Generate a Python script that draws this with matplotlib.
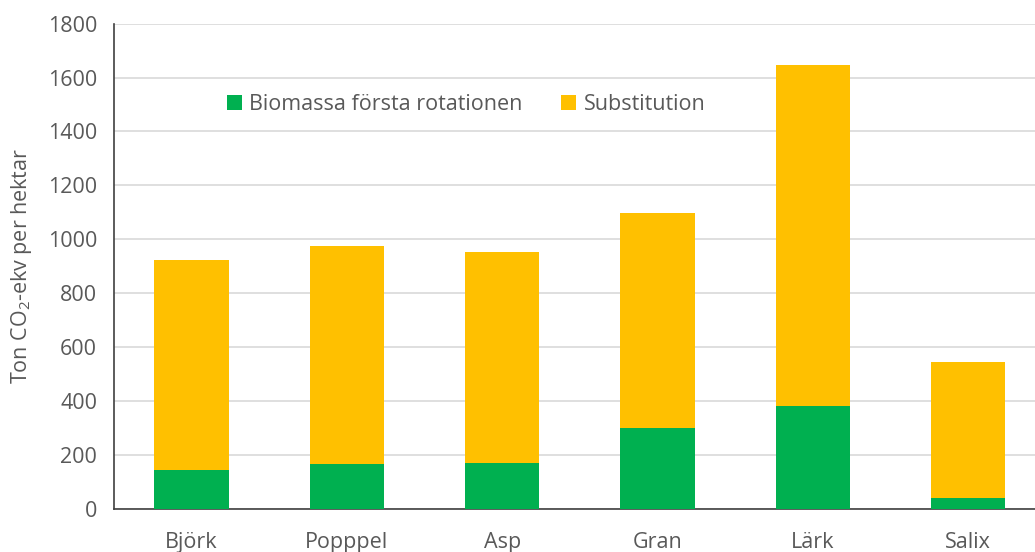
import matplotlib
matplotlib.use("Agg")
import matplotlib.pyplot as plt
import numpy as np

plt.rcParams['font.family'] = ['Open Sans', 'DejaVu Sans']
plt.rcParams['mathtext.default'] = 'regular'

categories = ["Björk", "Popppel", "Asp", "Gran", "Lärk", "Salix"]
totals = [923, 975, 952, 1099, 1647, 543]
biomassa = [144, 166, 170, 301, 383, 41]
substitution = [t - b for t, b in zip(totals, biomassa)]

green = "#00b050"
yellow = "#ffc000"
textc = "#595959"

fig = plt.figure(figsize=(10.35, 5.52), dpi=100)
ax = fig.add_axes([0.110, 0.0784, 0.9005, 0.8788])

x = np.arange(len(categories))
ax.bar(x, biomassa, width=0.48, color=green, label="Biomassa första rotationen", zorder=3)
ax.bar(x, substitution, width=0.48, bottom=biomassa, color=yellow, label="Substitution", zorder=3)

ax.set_xlim(-0.5, len(categories) - 0.5)
ax.set_ylim(0, 1800)
ax.set_yticks(np.arange(0, 1801, 200))
ax.set_xticks(x)
ax.set_xticklabels(categories)
ax.yaxis.grid(True, color="#d9d9d9", linewidth=1.2, zorder=0)
ax.tick_params(axis="both", length=0, labelsize=15.5, colors=textc)
ax.tick_params(axis="x", pad=17)
ax.tick_params(axis="y", pad=12)
for s in ["top", "right"]:
    ax.spines[s].set_visible(False)
ax.spines["left"].set_color("#404040")
ax.spines["bottom"].set_color("#404040")
ax.spines["left"].set_linewidth(1.2)
ax.spines["bottom"].set_linewidth(1.2)

ax.set_ylabel("Ton CO$_2$-ekv per hektar", fontsize=15.5, color=textc, labelpad=10)

leg = ax.legend(loc="center", bbox_to_anchor=(0.378, 0.833), ncol=2, frameon=False,
                fontsize=15.5, handlelength=0.7, handleheight=0.7, handletextpad=0.35,
                columnspacing=1.8)
for t in leg.get_texts():
    t.set_color(textc)

fig.savefig("out.png", dpi=100)
